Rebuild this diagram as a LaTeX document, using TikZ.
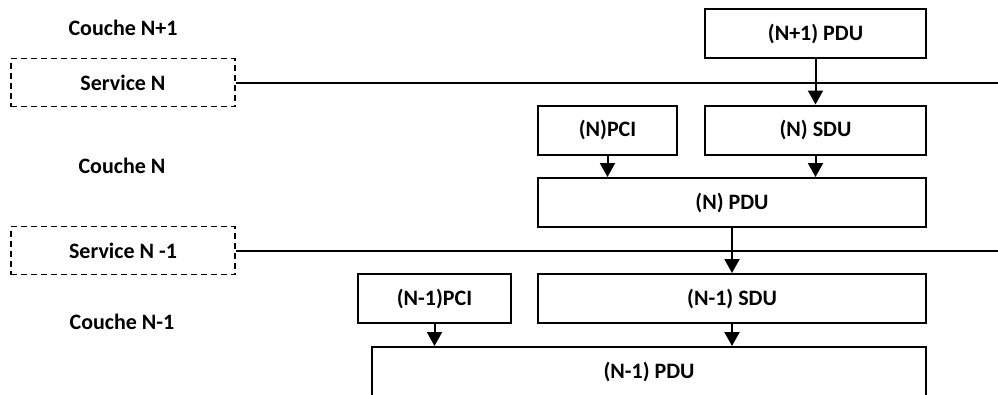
\documentclass[tikz,border=0pt]{standalone}
\usepackage{fontspec}
\setmainfont{Carlito}
\usetikzlibrary{arrows.meta}
\begin{document}
\begin{tikzpicture}[x=1pt,y=1pt,line width=2pt,>={Triangle[length=14pt,width=15pt]},
box/.style={draw=black,minimum height=49pt},
service/.style={draw=black,line width=1.6pt,dash pattern=on 6pt off 4pt,minimum width=224pt,minimum height=48pt}]
\tikzstyle{every node}+=[inner sep=0pt,font=\bfseries\fontsize{22}{26}\selectfont]
\useasboundingbox (0,0) rectangle (998,-394);
\coordinate (edge) at (998,0);
\node (couchenp1) at (123,-28) {Couche N+1};
\node [service] (servn) at (123,-82.5) {Service N};
\node (couchen) at (122,-166) {Couche N};
\node [service] (servnm1) at (123,-250.5) {Service N -1};
\node (couchenm1) at (122,-322) {Couche N-1};
\node [box,minimum width=221pt] (np1pdu) at (815.5,-33.5) {(N+1) PDU};
\node [box,minimum width=139pt] (npci) at (607.5,-130) {(N)PCI};
\node [box,minimum width=221pt] (nsdu) at (815.5,-130) {(N) SDU};
\node [box,minimum width=388pt] (npdu) at (732,-202.5) {(N) PDU};
\node [box,minimum width=153pt] (nm1pci) at (434.5,-298.5) {(N-1)PCI};
\node [box,minimum width=388pt] (nm1sdu) at (732,-298.5) {(N-1) SDU};
\node [box,minimum width=554pt] (nm1pdu) at (649,-371.5) {(N-1) PDU};
\draw [black] (servn.east) -- (servn.east -| edge);
\draw [black] (servnm1.east) -- (servnm1.east -| edge);
\draw [black,->] (np1pdu.south) -- (nsdu.north);
\draw [black,->] (npci.south) -- (npci.south |- npdu.north);
\draw [black,->] (nsdu.south) -- (nsdu.south |- npdu.north);
\draw [black,->] (npdu.south) -- (npdu.south |- nm1sdu.north);
\draw [black,->] (nm1pci.south) -- (nm1pci.south |- nm1pdu.north);
\draw [black,->] (nm1sdu.south) -- (nm1sdu.south |- nm1pdu.north);
\end{tikzpicture}
\end{document}
